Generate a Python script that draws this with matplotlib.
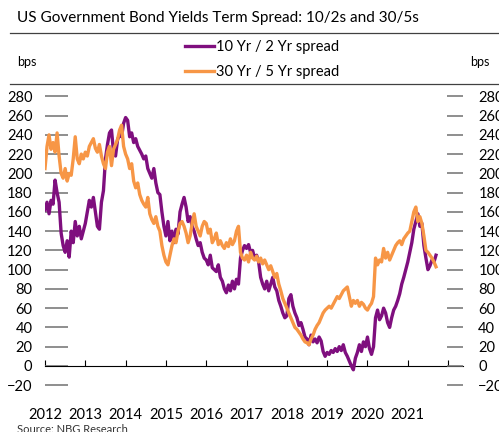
import numpy as np
import matplotlib.pyplot as plt
from matplotlib.lines import Line2D

plt.rcParams['font.family'] = ['Lato', 'DejaVu Sans']

# observations every 0.05 yr, 2012.00 .. 2021.70
start, end = 2012.0, 2021.7
spread_10_2 = [
    162, 170, 158, 172, 168, 193, 180, 170, 138, 125,
    118, 130, 113, 140, 128, 150, 135, 145, 132, 140,
    148, 160, 172, 165, 175, 160, 145, 142, 170, 182,
    215, 230, 242, 245, 222, 218, 235, 240, 238, 252,
    258, 255, 238, 242, 232, 236, 228, 224, 220, 215,
    218, 205, 200, 195, 205, 190, 180, 178, 160, 145,
    135, 150, 130, 140, 128, 142, 137, 160, 168, 175,
    165, 150, 155, 145, 140, 132, 125, 128, 118, 112,
    110, 105, 115, 102, 100, 98, 105, 92, 88, 80,
    76, 84, 78, 88, 80, 90, 85, 112, 120, 125,
    122, 126, 118, 120, 112, 115, 108, 92, 85, 80,
    88, 78, 85, 92, 82, 78, 68, 62, 55, 50,
    52, 70, 74, 62, 55, 50, 42, 45, 38, 30,
    28, 22, 32, 25, 28, 24, 30, 26, 15, 10,
    14, 12, 16, 14, 18, 15, 20, 16, 22, 14,
    10, 5, 0, -4, 8, 14, 22, 15, 25, 20,
    30, 18, 12, 20, 50, 58, 48, 52, 60, 55,
    45, 40, 50, 58, 62, 68, 75, 85, 92, 100,
    108, 118, 128, 142, 150, 158, 145, 148, 125, 112,
    100, 104, 110, 108, 115,
]
spread_30_5 = [
    205, 228, 240, 225, 232, 222, 242, 218, 200, 195,
    205, 192, 200, 198, 215, 238, 215, 210, 220, 215,
    222, 218, 228, 232, 236, 226, 222, 230, 218, 210,
    205, 222, 228, 208, 225, 230, 235, 245, 250, 228,
    220, 215, 205, 210, 192, 185, 190, 178, 172, 168,
    165, 175, 158, 152, 148, 155, 145, 140, 125, 115,
    108, 105, 115, 125, 132, 128, 140, 148, 150, 145,
    138, 128, 135, 148, 158, 145, 140, 135, 145, 150,
    148, 138, 142, 128, 132, 138, 126, 130, 125, 122,
    128, 124, 132, 126, 130, 140, 145, 118, 112, 110,
    115, 108, 118, 112, 110, 114, 108, 112, 106, 110,
    105, 100, 104, 98, 92, 96, 85, 78, 70, 65,
    60, 55, 50, 45, 40, 38, 35, 32, 28, 25,
    24, 22, 28, 32, 38, 42, 45, 50, 55, 58,
    60, 62, 60, 64, 68, 72, 70, 74, 78, 80,
    82, 72, 62, 68, 65, 68, 62, 66, 64, 60,
    58, 62, 65, 72, 112, 105, 110, 108, 122, 112,
    118, 110, 115, 120, 125, 128, 130, 126, 132, 135,
    138, 140, 150, 160, 165, 150, 155, 148, 135, 120,
    118, 115, 112, 108, 103,
]
years = list(range(2012, 2023))
year_labels = [str(y) for y in years[:-1]] + ['']
yticks = list(range(-20, 281, 20))

t = np.linspace(start, end, len(spread_10_2))

W, H = 499, 432
fig = plt.figure(figsize=(W / 100, H / 100), dpi=100)
ax = fig.add_axes([45 / W, 42 / H, 418 / W, 303.3 / H])

ax.plot(t, spread_10_2, color='#7F0F7E', lw=2.4, label='10 Yr / 2 Yr spread', zorder=3)
ax.plot(t, spread_30_5, color='#F79646', lw=2.4, label='30 Yr / 5 Yr spread', zorder=3)

ax.set_xlim(2012, 2022.37)
ax.set_ylim(-25, 290)
for s in ['top', 'right', 'left']:
    ax.spines[s].set_visible(False)
ax.spines['bottom'].set_position(('data', 0))
ax.spines['bottom'].set_color('black')
ax.set_xticks(years)
ax.set_xticklabels(year_labels)
ax.tick_params(axis='x', direction='in', length=4, width=0.8, pad=30, labelsize=10.5)

ax.set_yticks(yticks)
ax.tick_params(axis='y', direction='in', length=16.5, width=1.1, color='#707070',
               pad=9, labelsize=10.5)

ax2 = ax.twinx()
ax2.set_ylim(ax.get_ylim())
for s in ax2.spines.values():
    s.set_visible(False)
ax2.set_yticks(yticks)
ax2.tick_params(axis='y', direction='in', length=11.5, width=1.1, color='#707070',
                pad=11, labelsize=10.5)

# header
fig.text(17 / W, 1 - 18 / H, 'US Government Bond Yields Term Spread: 10/2s and 30/5s',
         fontsize=11, va='center', ha='left')
fig.add_artist(Line2D([10 / W, 1], [1 - 33 / H] * 2, color='#404040', lw=0.9))
fig.add_artist(Line2D([10 / W, 1], [1 - 84 / H] * 2, color='#404040', lw=0.9))
fig.text(17 / W, 1 - 62 / H, 'bps', fontsize=9, va='center')
fig.text(470 / W, 1 - 62 / H, 'bps', fontsize=9, va='center')

handles, labels = ax.get_legend_handles_labels()
fig.legend(handles, labels, loc='center', bbox_to_anchor=(262 / W, 1 - 59.5 / H),
           frameon=False, fontsize=10.5, handlelength=2.0, handletextpad=0.15,
           labelspacing=0.75)

fig.text(17 / W, 1 - 424 / H, 'Source: NBG Research', fontsize=8, va='top', color='#333333')

fig.savefig('out.png', dpi=100)
